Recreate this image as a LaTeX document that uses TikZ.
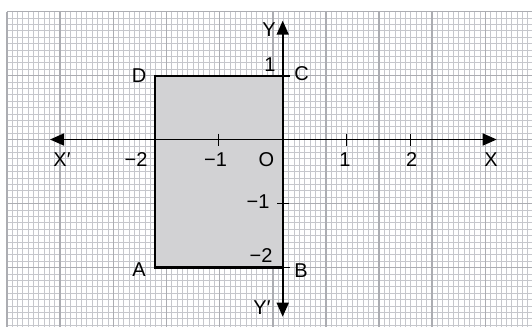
\documentclass[tikz,border=0pt]{standalone}
\usepackage{fontspec}
\setmainfont{Liberation Sans}
\usetikzlibrary{arrows.meta}
\definecolor{minorg}{RGB}{198,199,204}
\definecolor{majorg}{RGB}{172,173,178}
\definecolor{rectfill}{RGB}{210,210,212}
\begin{document}
\begin{tikzpicture}[x=1pt,y=-1pt,
  lbl/.style={inner sep=0pt, font=\fontsize{20}{22}\selectfont},
  minorline/.style={minorg, line width=0.9pt},
  majorline/.style={majorg, line width=1.5pt},
  axisline/.style={line width=1.6pt, {Triangle[length=14pt,width=12pt]}-{Triangle[length=14pt,width=12pt]}},
  tickline/.style={line width=1.3pt},
  edge/.style={line width=2.2pt}]
\useasboundingbox (0,0) rectangle (532,327);
\fill[white] (0,0) rectangle (532,327);
% graph paper
\foreach \i in {1,...,98} {\draw[minorline] ({7+5.315*\i},11.7) -- ({7+5.315*\i},327);}
\foreach \j in {1,...,49} {\draw[minorline] (7,{11.7+6.4*\j}) -- (532,{11.7+6.4*\j});}
\foreach \k in {0,...,9} {\draw[majorline] ({7+53.15*\k},11.7) -- ({7+53.15*\k},327);}
\foreach \k in {0,...,4} {\draw[majorline] (7,{11.7+64*\k}) -- (532,{11.7+64*\k});}
% key points
\coordinate (O) at (282.7,139.5);
\coordinate (D) at (154.7,76);
\coordinate (C) at (282.7,76);
\coordinate (A) at (154.7,267.5);
\coordinate (B) at (282.7,267.5);
\coordinate (xl) at (50,139.5);
\coordinate (xr) at (496.7,139.5);
\coordinate (yt) at (282.7,20.7);
\coordinate (yb) at (282.7,316.7);
% rectangle
\fill[rectfill] (D) rectangle (B);
\draw[edge] (C) -- (D) -- (A) -- (B);
% axes
\draw[axisline] (xl) -- (xr);
\draw[axisline] (yb) -- (yt);
% ticks
\foreach \x in {218.7,346.7,410.7} {\draw[tickline] (\x,133.5) -- (\x,145.5);}
\coordinate (cT) at (289.5,76);
\coordinate (bT) at (289.5,267.5);
\draw[tickline] (C) -- (cT);
\draw[tickline] (B) -- (bT);
\draw[tickline] (277,203.5) -- (288.5,203.5);
% labels
\node[lbl] (lY) at (269,30) {Y};
\node[lbl] (lY1) at (270,65) {1};
\node[lbl] (lC) at (301.5,73.5) {C};
\node[lbl] (lD) at (139,75.8) {D};
\node[lbl] (lXp) at (62,160) {X′};
\node[lbl] (lxm2) at (136,160) {−2};
\node[lbl] (lxm1) at (215.5,160) {−1};
\node[lbl] (lO) at (266.5,160) {O};
\node[lbl] (lx1) at (345,160) {1};
\node[lbl] (lx2) at (411.7,160) {2};
\node[lbl] (lX) at (491,160) {X};
\node[lbl] (lym1) at (258,202) {−1};
\node[lbl] (lym2) at (261,256) {−2};
\node[lbl] (lA) at (139,270) {A};
\node[lbl] (lB) at (301,271) {B};
\node[lbl] (lYp) at (262,308) {Y′};
\end{tikzpicture}
\end{document}
